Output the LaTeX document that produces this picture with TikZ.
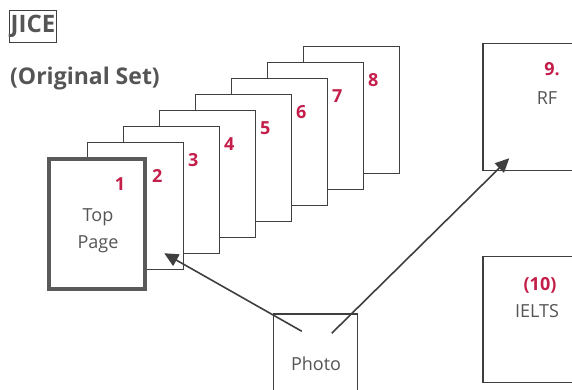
\documentclass[tikz,border=0pt]{standalone}
\usepackage{fontspec}
\setmainfont{Open Sans}
\usetikzlibrary{arrows.meta}
\definecolor{textgray}{HTML}{555555}
\definecolor{linegray}{HTML}{3F3F3F}
\definecolor{pagegray}{HTML}{5A5A5A}
\definecolor{numred}{HTML}{C41E4A}

\begin{document}
\begin{tikzpicture}[x=1pt, y=-1pt,
    page/.style={draw=linegray, line width=1.5pt, fill=white, inner sep=0pt,
        minimum width=96pt, minimum height=127pt},
    num/.style={text=numred, inner sep=0pt, font=\fontsize{18}{20}\selectfont\bfseries},
    txt/.style={text=textgray, inner sep=0pt, font=\fontsize{18}{27}\selectfont},
    box/.style={draw=linegray, line width=1.5pt, inner sep=0pt},
    link/.style={draw=linegray, line width=1.6pt, -{Triangle[length=14pt,width=13pt]}}]

\useasboundingbox (0,0) rectangle (572,390);

% title
    \node[box, line width=1pt, minimum width=47pt, minimum height=32pt,
        text=textgray, font=\fontsize{24}{26}\selectfont\bfseries] (jice) at (33,26.5) {JICE};
    \node[anchor=west, text=textgray, inner sep=0pt,
        font=\fontsize{23}{26}\selectfont\bfseries] (set) at (10,79) {(Original Set)};

% pages, back to front
    \foreach \i in {8,...,2} {
        \node[page] (p\i) at ({135.5+36*(\i-2)}, {206-16*(\i-2)}) {};
        \node[num] (n\i) at ([xshift=-27pt, yshift=-34pt]p\i.north east) {\i};
    }
% top page
    \node[page, draw=pagegray, line width=4pt, minimum height=130pt] (p1) at (97,224) {};
    \node[num] (n1) at ([xshift=-27pt, yshift=-27pt]p1.north east) {1};
    \node[txt, align=center] (top) at (98,231) {Top\\Page};

% RF and IELTS
    \node[box, fill=white, minimum width=134pt, minimum height=127pt] (rf) at (550,107) {};
    \node[num] (n9) at (552,69) {9.};
    \node[txt] (rft) at (547,98) {RF};
    \node[box, fill=white, minimum width=134pt, minimum height=126pt] (ielts) at (550,319.5) {};
    \node[num] (n10) at (540,285) {(10)};
    \node[txt] (ieltst) at (537,311) {IELTS};

% photo
    \node[box, fill=white, minimum width=84pt, minimum height=96pt] (photo) at (315.5,362) {};
    \node[txt] (photot) at (316,364) {Photo};

% arrows
    \draw[link] ([xshift=29pt, yshift=-18pt]photo.north west) -- ([xshift=-20pt, yshift=17pt]p2.south east);
    \draw[link] ([xshift=59pt, yshift=-20pt]photo.north west) -- ([xshift=27pt, yshift=13pt]rf.south west);

\end{tikzpicture}
\end{document}
